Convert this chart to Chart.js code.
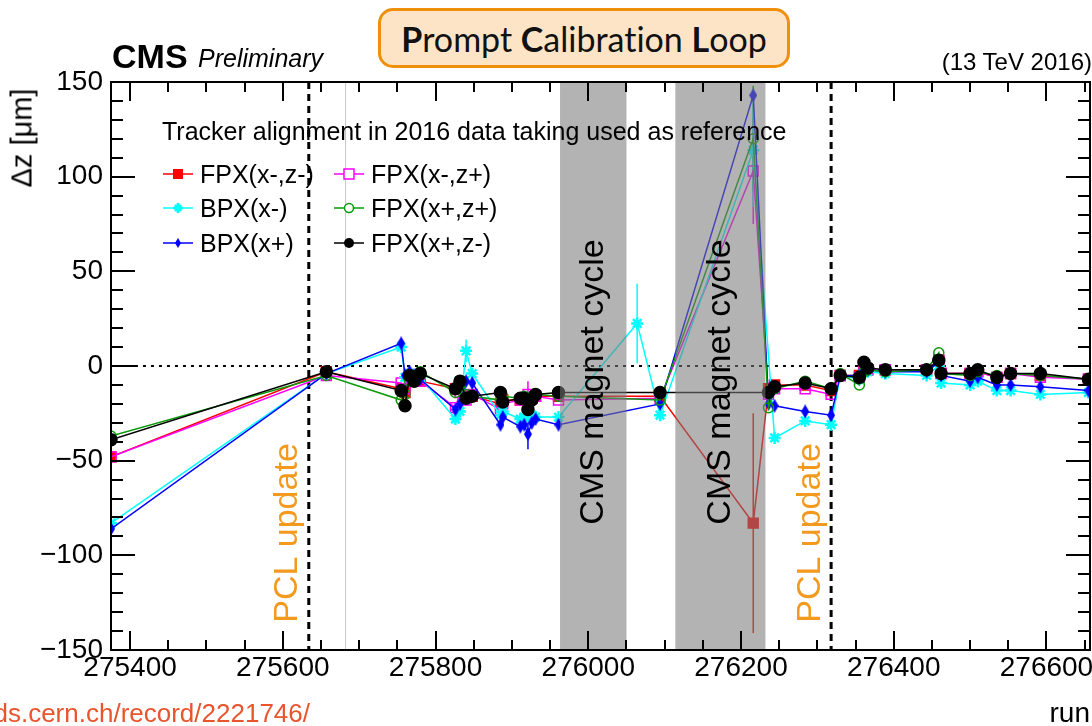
<!DOCTYPE html>
<html>
<head>
<meta charset="utf-8">
<script src="https://cdn.jsdelivr.net/npm/chart.js@4.4.1/dist/chart.umd.min.js"></script>
<style>
  body { margin: 0; background: #fff; overflow: hidden; }
  #wrap { position: relative; width: 1092px; height: 726px; overflow: hidden; font-family: "Liberation Sans", Arial, sans-serif; }
  #plot { position: absolute; left: 0; top: 0; }
  .txt { position: absolute; white-space: nowrap; line-height: 1; color: #000; }
  #pcl-box {
    position: absolute; left: 378px; top: 8px; width: 406px; height: 54px;
    border: 3px solid #f0900a; border-radius: 15px; background: #fde4c6;
    font-family: Lato, "DejaVu Sans", sans-serif; font-size: 34px; line-height: 56px; text-align: center; color: #111;
    font-variant-ligatures: none;
  }
  #pcl-box b { font-weight: 700; }
</style>
</head>
<body>
<div id="wrap">
  <canvas id="plot" width="1092" height="726"></canvas>
  <div id="pcl-box"><b>P</b>rompt <b>C</b>alibration <b>L</b>oop</div>
  <div class="txt" style="left:112px; top:39px; font-size:34px; font-weight:bold;">CMS</div>
  <div class="txt" style="left:198px; top:46px; font-size:25px; font-style:italic;">Preliminary</div>
  <div class="txt" style="right:0px; top:50px; font-size:24px;">(13 TeV 2016)</div>
  <div class="txt" style="left:22px; top:138px; font-size:29px; transform:translate(-50%,-50%) rotate(-90deg);">Δz [μm]</div>
  <div class="txt" style="right:2px; top:699px; font-size:28px;">run</div>
  <div class="txt" style="right:782px; top:700px; font-size:26px; color:#e8542b;">http://cds.cern.ch/record/2221746/</div>
</div>
<script>
// ---------------------------
// Data: mean delta-z per run for each pixel half-structure
// ---------------------------
const runs = [275375, 275657, 275755, 275760, 275766, 275772, 275780, 275826, 275832, 275840,
              275848, 275885, 275888, 275911, 275916, 275921, 275926, 275931, 275961, 276064,
              276094, 276216, 276236, 276244, 276284, 276318, 276330, 276355, 276361, 276366,
              276389, 276443, 276459, 276462, 276500, 276510, 276535, 276553, 276592, 276655];

const fpxMinusMinus = [-48, -3, -12, -14, -8, -6, -8, -12, -10, -16,
                       -16, -20, -18, -18, -17, -18, -17, -16, -16, null,
                       -16, -83, -12, -10, -10, -13, -5, -5, 0, -2,
                       -2, -2, 3, -4, -4, -3, -6, -4, -5, -7];
const fpxMinusPlus  = [-48, -5, -9, -12, -7, -6, -8, -22, -14, -18,
                       -15, -23, -20, -18, -17, -15, -17, -16, -18, null,
                       -17, 103, -15, -12, -12, -15, -5, -6, 0, -2,
                       -2, -2, 3, -4, -4, -3, -6, -4, -6, -7];
const bpxMinus      = [-83, -4, 10, -6, -4, -5, -6, -28, -24, 8,
                       -4, -26, -24, -28, -27, -27, -26, -27, -27, 22.5,
                       -26, 114, null, -38, -29, -31, -5, -7, -3, -3,
                       -4, -5, 0, -9, -10, -8, -13, -13, -15, -14];
const bpxPlus       = [-86, -4, 12, -5, -3, -5, -7, -23, -20, -8,
                       -9, -31, -27, -32, -31, -36, -30, -28, -31, null,
                       -20, 143, -20, -21, -24, -26, -5, -5, -2, -2,
                       -3, -3, 2, -5, -8, -6, -10, -10, -11, -13];
const fpxPlusPlus   = [-37, -5, -18, -15, -8, -5, -3, -14, -10, -15,
                       -16, -18, -16, -17, -16, -18, -16, -15, -16, null,
                       -18, 120, -22, -12, -8, -12, -4, -10, -3, -2,
                       -3, -2, 7, -4, -5, -3, -5, -4, -5, -7];
const fpxPlusMinus  = [-39, -3, -13, -21, -5, -8, -4, -12, -8, -17,
                       -16, -14, -19, -17, -17, -23, -18, -15, -14, null,
                       -14, null, -14, -11, -9, -12, -5, -6, 2, -1,
                       -2, -2, 3, -4, -4, -2, -6, -4, -4, -7];

// [series label, run, half-width of error bar]
const errorBars = [
  ['BPX(x-)', 275840, 6], ['FPX(x-,z+)', 275921, 7], ['BPX(x+)', 275921, 8],
  ['BPX(x-)', 276064, 21], ['FPX(x-,z-)', 276216, 58], ['FPX(x-,z+)', 276216, 28],
  ['FPX(x+,z+)', 276216, 28], ['BPX(x-)', 276216, 30], ['BPX(x-)', 276318, 3]
];

const pclUpdateRuns = [275634, 276318];
const referenceRun = 275682;
const magnetCycles = [[275963, 276050], [276114, 276232]];

const xTicks = [275400, 275600, 275800, 276000, 276200, 276400, 276600];
const yTicks = [-150, -100, -50, 0, 50, 100, 150];

// markers at the first/last run sit on the frame and get cut, so don't
// let their size push the frame in from the canvas edge
Chart.LineController.prototype.getMaxOverflow = function () { return 0; };

// ---------------------------
// Marker helpers
// ---------------------------
function thinDiamond(color, w, h) {
  const c = document.createElement('canvas');
  c.width = w; c.height = h;
  const g = c.getContext('2d');
  g.fillStyle = color;
  g.beginPath();
  g.moveTo(w / 2, 0); g.lineTo(w, h / 2); g.lineTo(w / 2, h); g.lineTo(0, h / 2);
  g.closePath(); g.fill();
  return c;
}

function toPoints(vals) {
  return runs.map((r, i) => ({ x: r, y: vals[i] })).filter(p => p.y !== null);
}

const GREEN = '#0a9a0a';
const seriesDefs = [
  { label: 'FPX(x-,z-)', vals: fpxMinusMinus, color: '#ff0000', style: 'rect', radius: 7, fill: true, order: 5 },
  { label: 'FPX(x-,z+)', vals: fpxMinusPlus, color: '#ff00ff', style: 'rect', radius: 7, fill: false, order: 4 },
  { label: 'BPX(x-)', vals: bpxMinus, color: '#00ffff', style: 'star', radius: 6, fill: false, order: 3, bw: 2.5 },
  { label: 'FPX(x+,z+)', vals: fpxPlusPlus, color: GREEN, style: 'circle', radius: 5, fill: false, order: 1 },
  { label: 'BPX(x+)', vals: bpxPlus, color: '#0000ff', style: thinDiamond('#0000ff', 8, 14), radius: 6, fill: true, order: 2 },
  { label: 'FPX(x+,z-)', vals: fpxPlusMinus, color: '#000000', style: 'circle', radius: 6, fill: true, order: 0 }
];

const datasets = seriesDefs.map(s => ({
  label: s.label,
  data: toPoints(s.vals),
  borderColor: s.color,
  backgroundColor: s.fill ? s.color : 'rgba(0,0,0,0)',
  borderWidth: 1.5,
  pointStyle: s.style,
  pointRadius: s.radius,
  pointBorderWidth: s.bw || 1.5,
  pointBorderColor: s.color,
  pointBackgroundColor: s.fill ? s.color : 'rgba(0,0,0,0)',
  tension: 0,
  spanGaps: true,
  order: s.order
}));

// ---------------------------
// Legend marker drawn by hand (smaller than data markers)
// ---------------------------
function legendMarker(ctx, s, x, y) {
  ctx.save();
  ctx.fillStyle = s.color; ctx.strokeStyle = s.color; ctx.lineWidth = 1.5;
  if (s.label === 'BPX(x+)') {
    ctx.beginPath(); ctx.moveTo(x, y - 5); ctx.lineTo(x + 3, y); ctx.lineTo(x, y + 5); ctx.lineTo(x - 3, y); ctx.closePath(); ctx.fill();
  } else if (s.style === 'rect') {
    if (s.fill) ctx.fillRect(x - 5, y - 5, 10, 10);
    else { ctx.fillStyle = '#fff'; ctx.fillRect(x - 5, y - 5, 10, 10); ctx.strokeRect(x - 5, y - 5, 10, 10); }
  } else if (s.style === 'star') {
    ctx.lineWidth = 2.5;
    ctx.beginPath(); ctx.moveTo(x - 5, y); ctx.lineTo(x + 5, y); ctx.moveTo(x, y - 5); ctx.lineTo(x, y + 5);
    ctx.moveTo(x - 3, y - 3); ctx.lineTo(x + 3, y + 3); ctx.moveTo(x - 3, y + 3); ctx.lineTo(x + 3, y - 3); ctx.stroke();
  } else {
    ctx.beginPath(); ctx.arc(x, y, s.fill ? 5 : 4.5, 0, Math.PI * 2);
    if (s.fill) ctx.fill(); else { ctx.fillStyle = '#fff'; ctx.fill(); ctx.stroke(); }
  }
  ctx.restore();
}

const decorations = {
  id: 'decorations',
  beforeDatasetsDraw(chart) {
    const { ctx, chartArea: a, scales: { x, y } } = chart;
    ctx.save();
    ctx.beginPath(); ctx.rect(a.left, a.top, a.right - a.left, a.bottom - a.top); ctx.clip();

    // reference run
    ctx.strokeStyle = '#c8c8c8'; ctx.lineWidth = 1;
    const xr = Math.round(x.getPixelForValue(referenceRun)) + 0.5;
    ctx.beginPath(); ctx.moveTo(xr, a.top); ctx.lineTo(xr, a.bottom); ctx.stroke();

    // zero line
    ctx.strokeStyle = '#000'; ctx.lineWidth = 2; ctx.setLineDash([3, 5]);
    const y0 = y.getPixelForValue(0);
    ctx.beginPath(); ctx.moveTo(a.left, y0); ctx.lineTo(a.right, y0); ctx.stroke();

    // PCL update runs
    ctx.lineWidth = 3; ctx.setLineDash([7, 5]);
    pclUpdateRuns.forEach(r => {
      const px = x.getPixelForValue(r);
      ctx.beginPath(); ctx.moveTo(px, a.top); ctx.lineTo(px, a.bottom); ctx.stroke();
    });
    ctx.setLineDash([]);

    // error bars
    ctx.lineWidth = 1.5;
    errorBars.forEach(([label, run, err]) => {
      const s = seriesDefs.find(d => d.label === label);
      const v = s.vals[runs.indexOf(run)];
      const px = x.getPixelForValue(run);
      ctx.strokeStyle = s.color;
      ctx.beginPath(); ctx.moveTo(px, y.getPixelForValue(v - err)); ctx.lineTo(px, y.getPixelForValue(v + err)); ctx.stroke();
    });
    ctx.restore();
  },
  afterDatasetsDraw(chart) {
    const { ctx, chartArea: a, scales: { x, y } } = chart;
    ctx.save();

    // magnet cycle bands on top of the graphs
    ctx.fillStyle = 'rgba(122,122,122,0.57)';
    magnetCycles.forEach(([r0, r1]) => {
      const x0 = x.getPixelForValue(r0), x1 = x.getPixelForValue(r1);
      ctx.fillRect(x0, a.top, x1 - x0, a.bottom - a.top);
    });

    // rotated annotations
    function vtext(str, cx, cy, color) {
      ctx.save();
      ctx.translate(cx, cy); ctx.rotate(-Math.PI / 2);
      ctx.fillStyle = color; ctx.font = '34px "Liberation Sans", Arial, sans-serif';
      ctx.textAlign = 'center'; ctx.textBaseline = 'middle';
      ctx.fillText(str, 0, 0);
      ctx.restore();
    }
    magnetCycles.forEach(([r0, r1]) => {
      vtext('CMS magnet cycle', (x.getPixelForValue(r0) + x.getPixelForValue(r1)) / 2, 382, '#000');
    });
    vtext('PCL update', x.getPixelForValue(pclUpdateRuns[0]) - 21, 533, '#f39a1e');
    vtext('PCL update', x.getPixelForValue(pclUpdateRuns[1]) - 20, 533, '#f39a1e');

    // frame
    ctx.strokeStyle = '#000'; ctx.lineWidth = 2;
    ctx.strokeRect(a.left, a.top, a.right - a.left, a.bottom - a.top);

    // ticks pointing inward on all four sides
    ctx.beginPath();
    for (let v = -150; v <= 150; v += 10) {
      const py = Math.round(y.getPixelForValue(v));
      const len = v % 50 === 0 ? 24 : 12;
      ctx.moveTo(a.left, py); ctx.lineTo(a.left + len, py);
      ctx.moveTo(a.right, py); ctx.lineTo(a.right - len, py);
    }
    for (let r = 275400; r <= x.max; r += 50) {
      const px = Math.round(x.getPixelForValue(r));
      const len = r % 200 === 0 ? 19 : 10;
      ctx.moveTo(px, a.bottom); ctx.lineTo(px, a.bottom - len);
      ctx.moveTo(px, a.top); ctx.lineTo(px, a.top + len);
    }
    ctx.stroke();

    // run-number labels under the frame (drawn here so the last one may overhang the edge)
    ctx.font = '28px "Liberation Sans", Arial, sans-serif';
    ctx.fillStyle = '#000'; ctx.textAlign = 'center'; ctx.textBaseline = 'top';
    xTicks.forEach(v => ctx.fillText(String(v), x.getPixelForValue(v), a.bottom + 4));

    // legend
    ctx.font = '25px "Liberation Sans", Arial, sans-serif';
    ctx.fillStyle = '#000'; ctx.textAlign = 'left'; ctx.textBaseline = 'alphabetic';
    ctx.fillText('Tracker alignment in 2016 data taking used as reference', 162, 140);
    const cols = [178, 349], rows = [174, 208, 243];
    seriesDefs.forEach((s, i) => {
      const cx = cols[i % 2], cy = rows[Math.floor(i / 2)];
      ctx.strokeStyle = s.color; ctx.lineWidth = 1.5;
      ctx.beginPath(); ctx.moveTo(cx - 15, cy); ctx.lineTo(cx + 15, cy); ctx.stroke();
      legendMarker(ctx, s, cx, cy);
      ctx.fillStyle = '#000';
      ctx.fillText(s.label, cx + 22, cy + 9);
    });
    ctx.restore();
  }
};

const tickFont = { family: '"Liberation Sans", Arial, sans-serif', size: 28 };

new Chart(document.getElementById('plot').getContext('2d'), {
  type: 'line',
  data: { datasets },
  options: {
    responsive: false,
    animation: false,
    devicePixelRatio: 1,
    layout: { padding: { top: 82, right: 2, left: 0, bottom: 0 } },
    plugins: { legend: { display: false }, tooltip: { enabled: false } },
    scales: {
      x: {
        type: 'linear', min: 275375, max: 276657,
        grid: { display: false, drawTicks: false }, border: { display: false },
        afterBuildTicks: s => { s.ticks = xTicks.map(v => ({ value: v })); },
        afterFit: s => { s.height = 76; },
        ticks: { display: false }
      },
      y: {
        type: 'linear', min: -150, max: 150,
        grid: { display: false, drawTicks: false }, border: { display: false },
        afterBuildTicks: s => { s.ticks = yTicks.map(v => ({ value: v })); },
        afterFit: s => { s.width = 111; },
        ticks: { font: tickFont, color: '#000', padding: 8, callback: v => String(v).replace('-', '\u2212') }
      }
    }
  },
  plugins: [decorations]
});
</script>
</body>
</html>
